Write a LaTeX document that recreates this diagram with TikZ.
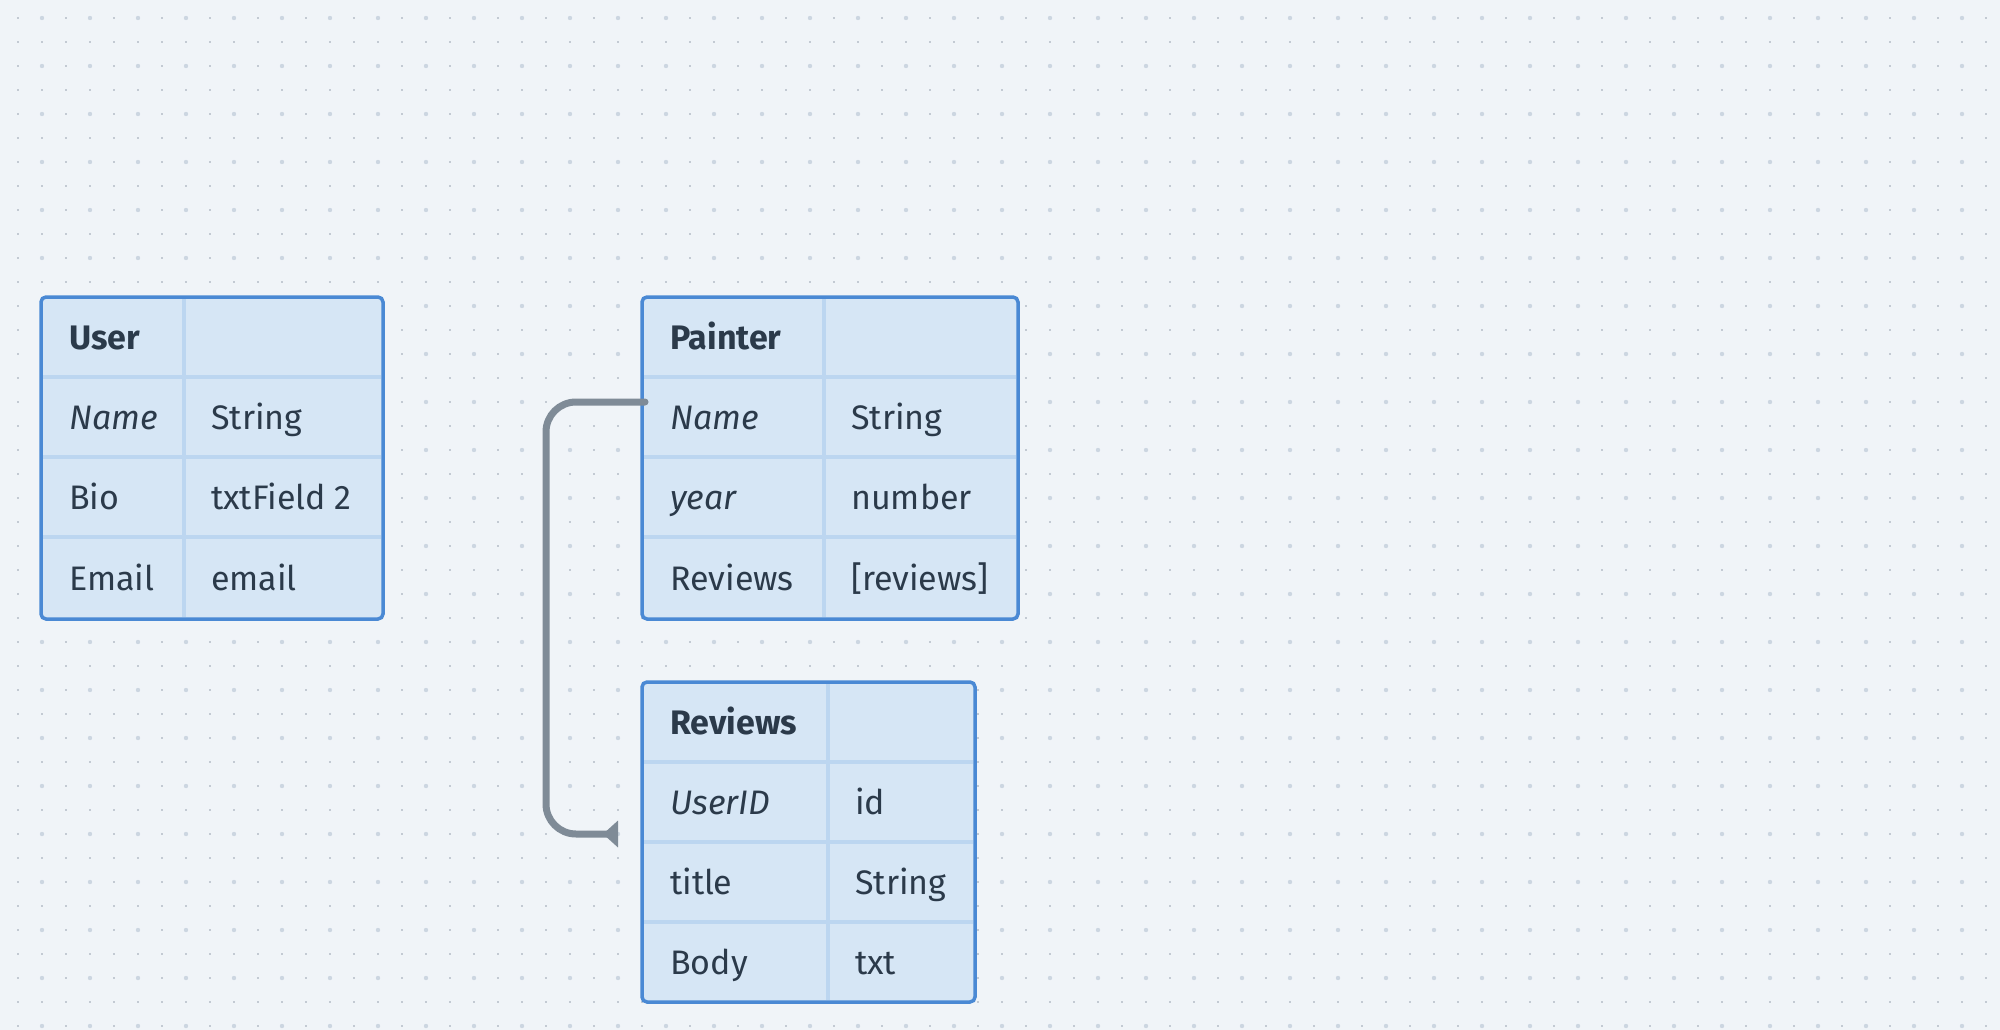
\documentclass[tikz,border=0pt]{standalone}
\usepackage{fontspec}
\setmainfont{Fira Sans}
\usetikzlibrary{arrows.meta}

\definecolor{bgc}{HTML}{F0F4F8}
\definecolor{dotc}{HTML}{C3CAD3}
\definecolor{bigdotc}{HTML}{CCD6E1}
\definecolor{tblfill}{HTML}{D6E6F5}
\definecolor{tblborder}{HTML}{4A89D4}
\definecolor{tblgrid}{HTML}{BCD6F0}
\definecolor{ink}{HTML}{2B3A4A}
\definecolor{linkc}{HTML}{7F8B97}

\begin{document}
\begin{tikzpicture}[x=1pt, y=-1pt, font=\fontsize{34}{41}\selectfont,
	tbl/.style={draw=tblborder, fill=tblfill, line width=3.5pt, rounded corners=5pt, inner sep=0pt, outer sep=0pt, anchor=north west},
	cell/.style={anchor=base west, text=ink, inner sep=0pt},
	rule/.style={draw=tblgrid, line width=3.5pt},
	link/.style={draw=linkc, line width=7pt, rounded corners=30pt, line cap=round, -{Triangle[reversed, length=15pt, width=26pt]}}]
	\fill[bgc] (0,0) rectangle (2000,1030);
	\useasboundingbox (0,0) rectangle (2000,1030);

	% dotted canvas
	\foreach \x in {18,42,...,1998}
		\foreach \y in {18,42,...,1026}
			\fill[dotc] (\x-1,\y-1) rectangle (\x+1,\y+1);
	\foreach \x in {42,90,...,1998}
		\foreach \y in {18,66,...,1026}
			\fill[bigdotc] (\x,\y) circle (2.2);

	% User
	\node[tbl, minimum width=342pt, minimum height=322pt] (user) at (41,297) {};
	\draw[rule] (184,299) -- (184,617);
	\foreach \y in {377,457,537}
		\draw[rule] (43,\y) -- (381,\y);
	\node[cell] (uHead) at (69,349) {\textbf{User}};
	\node[cell] (uName) at (69,429) {\textit{Name}};
	\node[cell] (uNameT) at (211,429) {String};
	\node[cell] (uBio) at (69,509) {Bio};
	\node[cell] (uBioT) at (211,509) {txtField 2};
	\node[cell] (uEmail) at (69,590) {Email};
	\node[cell] (uEmailT) at (211,590) {email};

	% Painter
	\node[tbl, minimum width=376pt, minimum height=322pt] (painter) at (642,297) {};
	\draw[rule] (824,299) -- (824,617);
	\foreach \y in {377,457,537}
		\draw[rule] (644,\y) -- (1016,\y);
	\node[cell] (pHead) at (670,349) {\textbf{Painter}};
	\node[cell] (pName) at (670,429) {\textit{Name}};
	\node[cell] (pNameT) at (851,429) {String};
	\node[cell] (pYear) at (670,509) {\textit{year}};
	\node[cell] (pYearT) at (851,509) {number};
	\node[cell] (pRev) at (670,590) {Reviews};
	\node[cell] (pRevT) at (851,590) {[reviews]};

	% Reviews
	\node[tbl, minimum width=333pt, minimum height=320pt] (reviews) at (642,682) {};
	\draw[rule] (828,684) -- (828,1000);
	\foreach \y in {762,842,922}
		\draw[rule] (644,\y) -- (973,\y);
	\node[cell] (rHead) at (670,734) {\textbf{Reviews}};
	\node[cell] (rUser) at (670,814) {\textit{UserID}};
	\node[cell] (rUserT) at (855,814) {id};
	\node[cell] (rTitle) at (670,894) {title};
	\node[cell] (rTitleT) at (855,894) {String};
	\node[cell] (rBody) at (670,974) {Body};
	\node[cell] (rBodyT) at (855,974) {txt};

	% link
	\coordinate (src) at (645,402);
	\coordinate (bend) at (546,834);
	\coordinate (dst) at (618,834);
	\draw[link] (src) -| (bend) -- (dst);
\end{tikzpicture}
\end{document}
